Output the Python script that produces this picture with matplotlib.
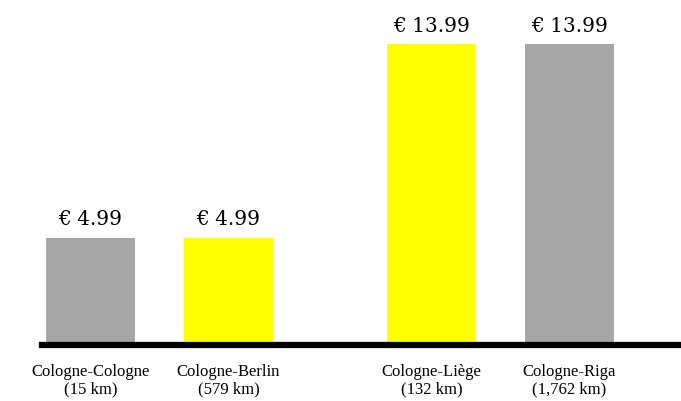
import matplotlib.pyplot as plt

# data
routes = ['Cologne-Cologne\n(15 km)', 'Cologne-Berlin\n(579 km)',
          'Cologne-Liège\n(132 km)', 'Cologne-Riga\n(1,762 km)']
prices = [4.99, 4.99, 13.99, 13.99]
colors = ['#a6a6a6', '#ffff00', '#ffff00', '#a6a6a6']
xpos = [0, 1, 2.47, 3.47]

fig = plt.figure(figsize=(6.81, 4.01), dpi=100)
ax = fig.add_axes([42 / 681, 56 / 401, 639 / 681, 344 / 401])

ax.bar(xpos, prices, width=0.645, color=colors)
for x, p in zip(xpos, prices):
    ax.text(x, p + 0.4, '€ {:.2f}'.format(p), ha='center', va='bottom',
            fontsize=14.5, family='DejaVu Serif')

ax.set_xlim(-0.351, 4.279)
ax.set_ylim(0, 16)
ax.set_xticks(xpos)
ax.set_xticklabels(routes, fontsize=12, family='Liberation Serif', linespacing=1.05)
ax.tick_params(axis='x', length=0, pad=14)
ax.set_yticks([])
for s in ['top', 'right', 'left']:
    ax.spines[s].set_visible(False)
ax.spines['bottom'].set_linewidth(4.5)

fig.savefig('out.png', dpi=100)
